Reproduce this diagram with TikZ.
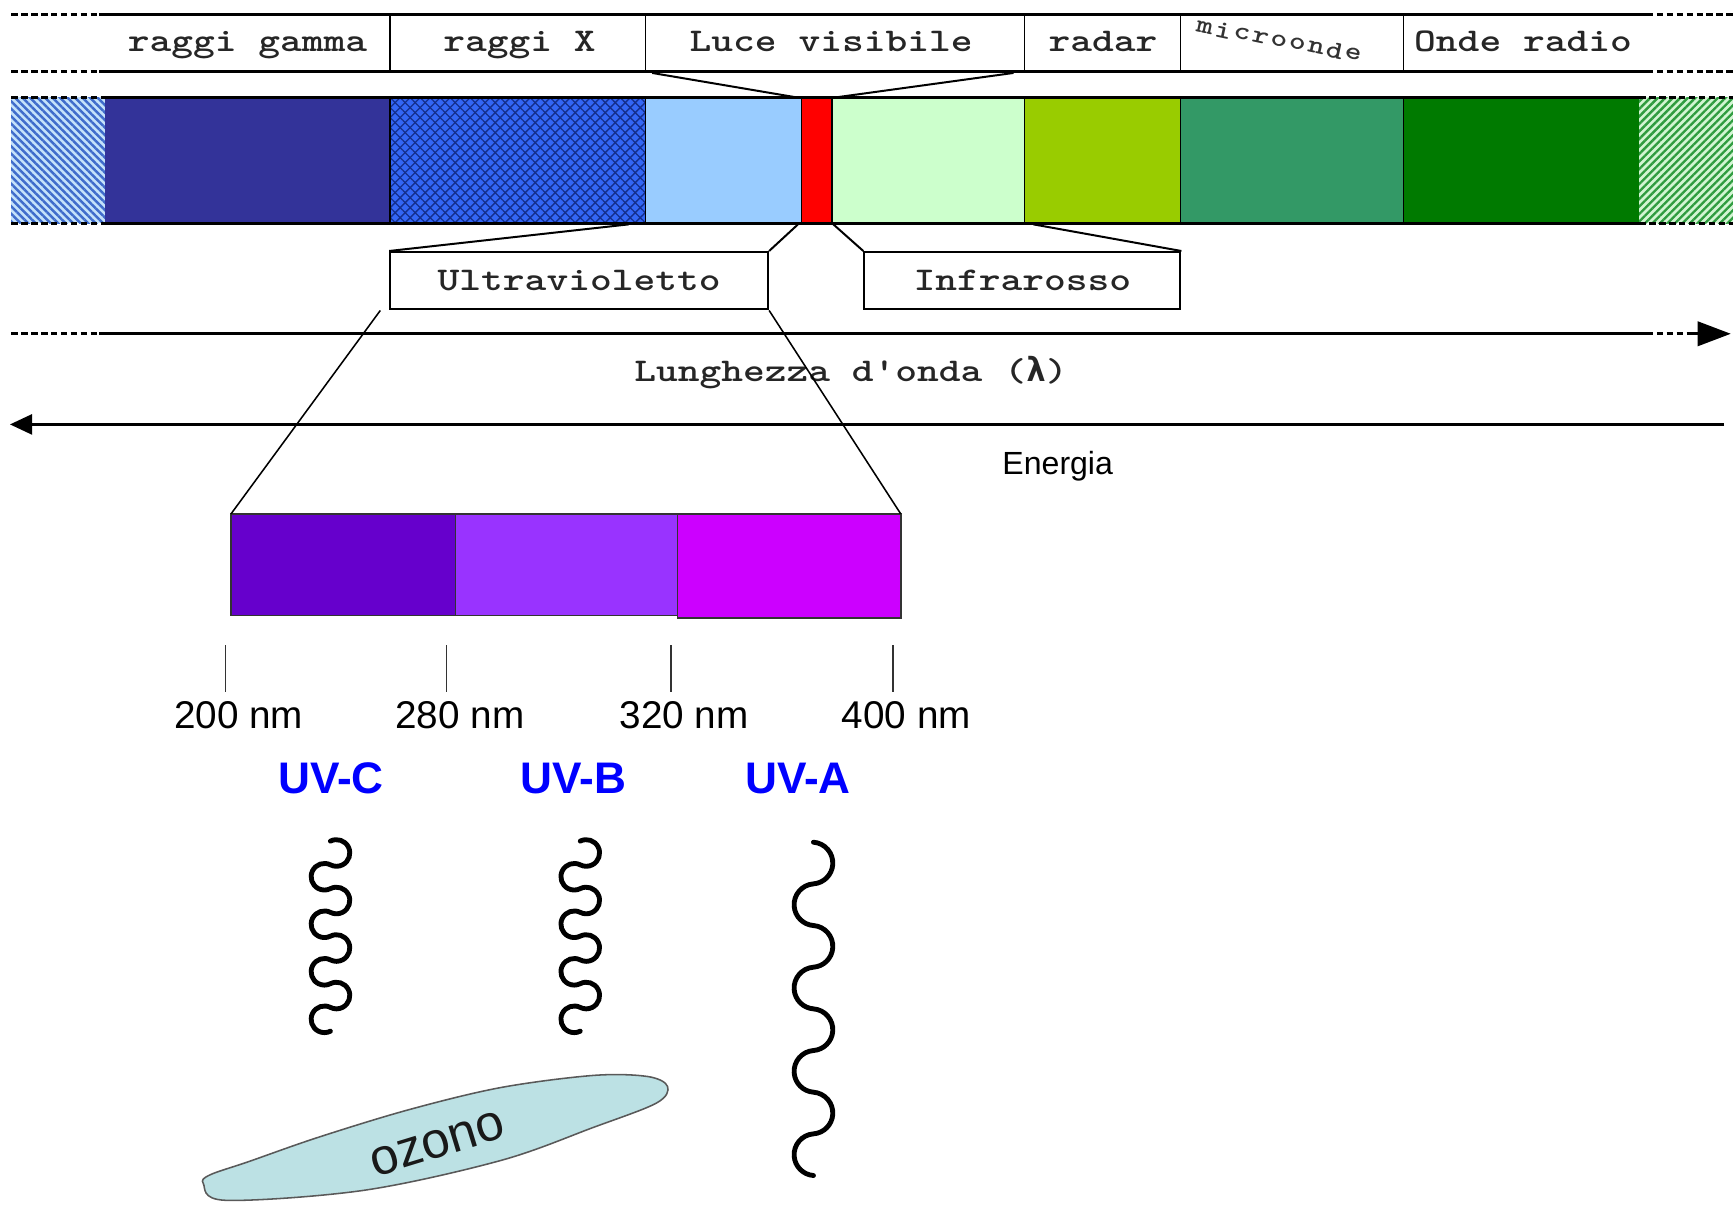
\documentclass[tikz,border=0pt]{standalone}
\usepackage{fontspec}
\usetikzlibrary{patterns.meta,arrows.meta,calc}
\newfontfamily\monof{lmmonolt10-bold.otf}[FakeStretch=1.25]
\newfontfamily\lamf{DejaVu Sans Mono Bold}
\newfontfamily\arialf{Liberation Sans}
\definecolor{navy}{HTML}{333399}
\definecolor{xray}{HTML}{3366F5}
\definecolor{xdark}{HTML}{142E8C}
\definecolor{lblue}{HTML}{99CCFF}
\definecolor{vred}{HTML}{FF0000}
\definecolor{pgreen}{HTML}{CCFFCC}
\definecolor{ygreen}{HTML}{99CC00}
\definecolor{sgreen}{HTML}{339966}
\definecolor{dgreen}{HTML}{007A00}
\definecolor{hatchA}{HTML}{3F6CCB}
\definecolor{hatchAbg}{HTML}{C4E2FA}
\definecolor{hatchB}{HTML}{2E9B3E}
\definecolor{hatchBbg}{HTML}{D2F5D2}
\definecolor{uvc}{HTML}{6600CC}
\definecolor{uvb}{HTML}{9933FF}
\definecolor{uva}{HTML}{CC00FF}
\definecolor{uvblue}{HTML}{0000FF}
\definecolor{ozone}{HTML}{BCE1E4}
\begin{document}
\begin{tikzpicture}[x=0.5pt,y=-0.5pt,
  heavy/.style={line width=1.3pt},
  dashd/.style={line width=1.3pt, dash pattern=on 3pt off 1.5pt},
  thinl/.style={line width=0.7pt},
  conn/.style={line width=0.9pt},
  mono/.style={font=\monof\fontsize{15}{15}\selectfont, inner sep=0pt, text=black!85},
  toplab/.style={mono, text height=9pt, text depth=2.5pt},
  micro/.style={font=\monof\fontsize{11.5}{11.5}\selectfont, inner sep=0pt, text=black!80},
  labbox/.style={mono, draw=black, line width=0.9pt, minimum height=26pt},
  nm/.style={font=\arialf\fontsize{17.5}{17.5}\selectfont, inner sep=0pt},
  uvlab/.style={font=\arialf\bfseries\fontsize{20}{20}\selectfont, text=uvblue, inner sep=0pt},
  enlab/.style={font=\arialf\fontsize{14.5}{14.5}\selectfont, inner sep=0pt},
  wave/.style={line width=2.2pt, line cap=round, line join=round},
  tickl/.style={line width=0.8pt, draw=black!80}
]
\useasboundingbox (0,0) rectangle (1568,1093);

% ---------- label row ----------
\draw[dashd] (10,13) -- (90,13);
\draw[dashd] (10,65) -- (90,65);
\draw[heavy] (90,13) -- (1490,13);
\draw[heavy] (90,65) -- (1490,65);
\draw[dashd] (1490,13) -- (1568,13);
\draw[dashd] (1490,65) -- (1568,65);
\foreach \x in {353,584,927,1068,1270} \draw[thinl] (\x,13) -- (\x,65);
\node[toplab] (lgamma) at (224,40.5) {raggi gamma};
\node[toplab] (lx) at (470,40.5) {raggi X};
\node[toplab] (lvis) at (752,40.5) {Luce visibile};
\node[toplab] (lradar) at (998,40.5) {radar};
\foreach \ch [count=\i from 0] in {m,i,c,r,o,o,n,d,e}
  \node[micro, rotate=-12] (mw\i) at ({1090+16.8*\i},{25+3.0*\i}) {\ch};
\node[toplab] (lradio) at (1378,40.5) {Onde radio};

% ---------- spectrum bar ----------
\fill[hatchAbg] (10,88) rectangle (95,202);
\fill[pattern={Lines[angle=-45,distance=2.4pt,line width=1.1pt]}, pattern color=hatchA] (10,88) rectangle (95,202);
\fill[navy] (95,88) rectangle (353,202);
\fill[xray] (353,88) rectangle (584,202);
\fill[pattern={Lines[angle=45,distance=3.2pt,line width=0.6pt]}, pattern color=xdark] (353,88) rectangle (584,202);
\fill[pattern={Lines[angle=-45,distance=3.2pt,line width=0.6pt]}, pattern color=xdark] (353,88) rectangle (584,202);
\fill[lblue] (584,88) rectangle (725,202);
\fill[vred] (725,88) rectangle (753,202);
\fill[pgreen] (753,88) rectangle (927,202);
\fill[ygreen] (927,88) rectangle (1068,202);
\fill[sgreen] (1068,88) rectangle (1270,202);
\fill[dgreen] (1270,88) rectangle (1483,202);
\fill[hatchBbg] (1483,88) rectangle (1568,202);
\fill[pattern={Lines[angle=45,distance=2.4pt,line width=1.1pt]}, pattern color=hatchB] (1483,88) rectangle (1568,202);
\foreach \x in {353,584,725,753,927,1068,1270} \draw[thinl] (\x,88) -- (\x,202);
\draw[heavy] (95,88) -- (1483,88);
\draw[heavy] (95,202) -- (1483,202);
\draw[dashd] (10,88) -- (95,88);
\draw[dashd] (10,202) -- (95,202);
\draw[dashd] (1483,88) -- (1568,88);
\draw[dashd] (1483,202) -- (1568,202);

\coordinate (visL) at (590,66);
\coordinate (visR) at (917,66);
\coordinate (redTL) at (720,88);
\coordinate (redTR) at (757,88);
\coordinate (xrayB) at (569,203);
\coordinate (redBL) at (722,203);
\coordinate (redBR) at (754,203);
\coordinate (ygB) at (935,203);
\draw[conn] (visL) -- (redTL);
\draw[conn] (visR) -- (redTR);

% ---------- UV / IR boxes ----------
\node[labbox, minimum width=171pt] (uv) at (524,254) {Ultravioletto};
\node[labbox, minimum width=143pt] (ir) at (925,254) {Infrarosso};
\draw[conn] (xrayB) -- (uv.north west);
\draw[conn] (redBL) -- (uv.north east);
\draw[conn] (redBR) -- (ir.north west);
\draw[conn] (ygB) -- (ir.north east);

% ---------- axes ----------
\draw[dashd] (10,302) -- (90,302);
\draw[heavy] (90,302) -- (1490,302);
\draw[dashd] (1490,302) -- (1532,302);
\coordinate (lamS) at (1528,302);
\coordinate (lamE) at (1566,302);
\draw[heavy, -{Triangle[length=15pt,width=11pt]}] (lamS) -- (lamE);
\node[mono] (llam) at (770,337) {Lunghezza d'onda ({\lamf λ})};
\coordinate (enS) at (1560,384);
\coordinate (enE) at (9,384);
\draw[heavy, -{Triangle[length=10pt,width=9pt]}] (enS) -- (enE);
\node[enlab] (len) at (957,422) {Energia};

% ---------- UV bar ----------
\filldraw[fill=uvc, draw=black!80, thinl] (209,465) rectangle (412,557);
\filldraw[fill=uvb, draw=black!80, thinl] (412,465) rectangle (613,557);
\filldraw[fill=uva, draw=black!80, thinl] (613,465) rectangle (815,559);
\coordinate (uvTL) at (209,465);
\coordinate (uvTR) at (815,465);
\draw[thinl] ($(uv.south west)+(-8,0)$) -- (uvTL);
\draw[thinl] (uv.south east) -- (uvTR);

\foreach \x/\t [count=\i] in {204/200, 404/280, 607/320, 808/400} {
  \draw[tickl] (\x,584) -- (\x,626);
  \node[nm] (nm\i) at (\x+12,647) {\t\ nm};
}
\node[uvlab] (uvC) at (299.5,704) {UV-C};
\node[uvlab] (uvB) at (519,704) {UV-B};
\node[uvlab] (uvA) at (722,704) {UV-A};

% ---------- waves ----------
\def\drawwave#1#2#3#4{% c, y0, half period, sagitta
  \pgfmathsetmacro\wvR{((#3)*(#3)+(#4)*(#4))/(2*(#4))}
  \pgfmathsetmacro\wvA{atan2(-(#3),\wvR-(#4))}
  \pgfmathsetmacro\wvC{-(\wvA)}
  \pgfmathsetmacro\wvD{-180-(\wvA)}
  \pgfmathsetmacro\wvE{-180+(\wvA)}
  \draw[wave] (#1,#2) \foreach \k in {1,...,4}{
     arc[start angle=\wvA, end angle=\wvC, radius=\wvR]
     arc[start angle=\wvD, end angle=\wvE, radius=\wvR] };
}
\drawwave{299}{761}{10.75}{17.5}
\drawwave{525}{761}{10.75}{17.5}
\drawwave{736}{762}{18.85}{17.5}

% ---------- ozone ----------
\filldraw[fill=ozone, draw=black!65, line width=0.7pt] plot[smooth cycle, tension=0.55] coordinates {
  (184,1071) (204,1086) (329,1077) (453,1050) (537,1020) (594,998) (604,983)
  (586,974) (537,973) (453,984) (370,1004) (288,1029) (225,1051) (190,1063)};
\node[font=\arialf\fontsize{23}{23}\selectfont, inner sep=0pt, rotate=17, text=black!90] (oz) at (396,1035) {ozono};
\end{tikzpicture}
\end{document}
